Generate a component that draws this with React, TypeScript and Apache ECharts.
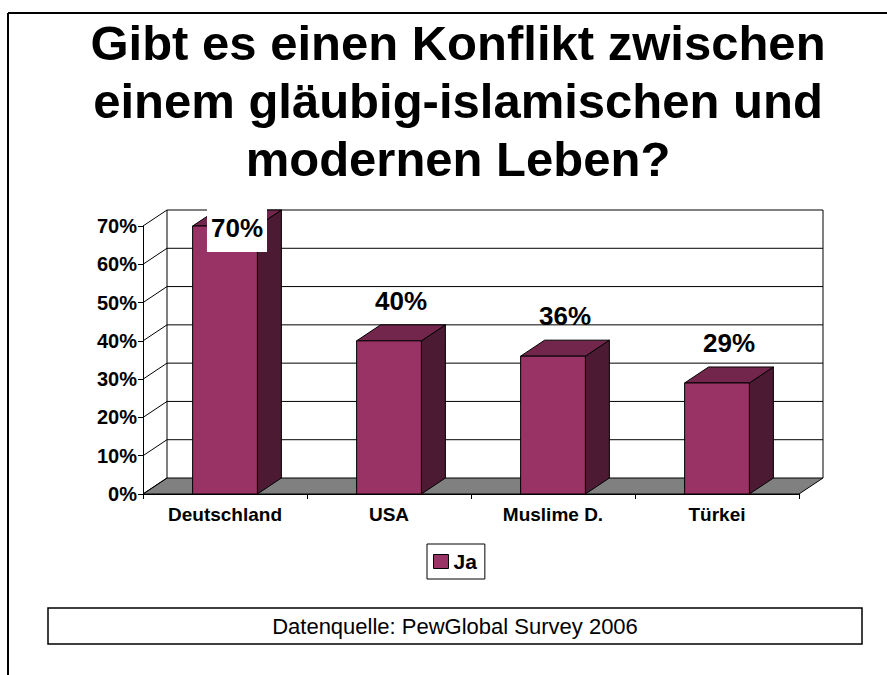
import React, { useEffect, useRef } from "react";
import * as echarts from "echarts";

const titleLines = [
  "Gibt es einen Konflikt zwischen",
  "einem gläubig-islamischen und",
  "modernen Leben?",
];
const categories = ["Deutschland", "USA", "Muslime D.", "Türkei"];
const values = [70, 40, 36, 29];
const yTicks = [0, 10, 20, 30, 40, 50, 60, 70];
const seriesName = "Ja";
const sourceText = "Datenquelle: PewGlobal Survey 2006";

const FONT = "'Liberation Sans', Arial, Helvetica, sans-serif";
const DX = 24;
const DY = -16;
const FRONT = "#993366";
const TOP = "#73264c";
const SIDE = "#4d1a33";
const FLOOR = "#808080";

export default function App() {
  const ref = useRef<HTMLDivElement>(null);
  useEffect(() => {
    if (!ref.current) return;
    const chart = echarts.init(ref.current, null, { renderer: "svg" });

    const wallsRender = (params: any, api: any) => {
      const cs = params.coordSys;
      const x0 = cs.x;
      const x1 = cs.x + cs.width;
      const yBase = api.coord([0, 0])[1];
      const yTopVal = api.coord([0, yTicks[yTicks.length - 1]])[1];
      const children: any[] = [];
      children.push({
        type: "polygon",
        shape: {
          points: [
            [x0, yBase],
            [x1, yBase],
            [x1 + DX, yBase + DY],
            [x0 + DX, yBase + DY],
          ],
        },
        style: { fill: FLOOR, stroke: "#000", lineWidth: 1 },
      });
      yTicks.forEach((t) => {
        const y = api.coord([0, t])[1];
        if (t !== 0) {
          children.push({
            type: "line",
            shape: { x1: x0 + DX, y1: y + DY, x2: x1 + DX, y2: y + DY },
            style: { stroke: "#000", lineWidth: 1 },
          });
        }
        children.push({
          type: "line",
          shape: { x1: x0, y1: y, x2: x0 + DX, y2: y + DY },
          style: { stroke: "#000", lineWidth: 1 },
        });
      });
      [x0 + DX, x1 + DX].forEach((x) => {
        children.push({
          type: "line",
          shape: { x1: x, y1: yTopVal + DY, x2: x, y2: yBase + DY },
          style: { stroke: "#000", lineWidth: 1 },
        });
      });
      return { type: "group", children };
    };

    const barsRender = (params: any, api: any) => {
      const cs = params.coordSys;
      const idx = api.value(0);
      const val = api.value(1);
      const top = api.coord([idx, val]);
      const base = api.coord([idx, 0]);
      const bw = api.size([1, 0])[0] * 0.395;
      const xl = top[0] - bw / 2;
      const xr = top[0] + bw / 2;
      const yT = top[1];
      const yB = base[1];
      let cy = yT + DY - 24;
      const minY = cs.y + 2;
      const clamped = cy < minY;
      if (clamped) cy = minY;
      return {
        type: "group",
        children: [
          {
            type: "polygon",
            shape: { points: [[xr, yT], [xr + DX, yT + DY], [xr + DX, yB + DY], [xr, yB]] },
            style: { fill: SIDE, stroke: "#000", lineWidth: 1 },
          },
          {
            type: "polygon",
            shape: { points: [[xl, yT], [xr, yT], [xr + DX, yT + DY], [xl + DX, yT + DY]] },
            style: { fill: TOP, stroke: "#000", lineWidth: 1 },
          },
          {
            type: "rect",
            shape: { x: xl, y: yT, width: bw, height: yB - yT },
            style: { fill: FRONT, stroke: "#000", lineWidth: 1 },
          },
          {
            type: "text",
            x: top[0] + DX / 2,
            y: cy,
            z2: 10,
            style: {
              text: val + "%",
              fontFamily: FONT,
              fontSize: 26,
              fontWeight: "bold",
              fill: "#000",
              align: "center",
              verticalAlign: "middle",
              backgroundColor: clamped ? "#fff" : "transparent",
              padding: clamped ? [11, 4, 11, 4] : 0,
            },
          },
        ],
      };
    };

    chart.setOption({
      animation: false,
      backgroundColor: "#fff",
      textStyle: { fontFamily: FONT },
      title: {
        text: titleLines.join("\n"),
        left: 453,
        top: 9,
        textAlign: "center",
        textStyle: {
          fontFamily: FONT,
          fontSize: 49,
          fontWeight: "bold",
          lineHeight: 58,
          color: "#000",
        },
      },
      legend: {
        data: [{ name: seriesName, icon: "rect" }],
        left: 427,
        top: 544,
        itemWidth: 15,
        itemHeight: 14,
        padding: [7, 8, 7, 6],
        borderColor: "#000",
        borderWidth: 1,
        itemStyle: { borderColor: "#000", borderWidth: 1 },
        textStyle: { fontFamily: FONT, fontSize: 21, fontWeight: "bold", color: "#000" },
      },
      grid: { left: 143, right: 88, top: 226, bottom: 181, containLabel: false },
      xAxis: {
        type: "category",
        data: categories,
        boundaryGap: true,
        axisLine: { show: true, lineStyle: { color: "#000", width: 1 } },
        axisTick: { show: true, length: 5, lineStyle: { color: "#000" } },
        axisLabel: {
          interval: 0,
          margin: 11,
          fontFamily: FONT,
          fontSize: 19,
          fontWeight: "bold",
          color: "#000",
        },
        splitLine: { show: false },
      },
      yAxis: {
        type: "value",
        min: 0,
        max: 70,
        interval: 10,
        axisLine: { show: true, lineStyle: { color: "#000", width: 1 } },
        axisTick: { show: true, length: 5, lineStyle: { color: "#000" } },
        axisLabel: {
          margin: 6,
          formatter: "{value}%",
          fontFamily: FONT,
          fontSize: 20,
          fontWeight: "bold",
          color: "#000",
        },
        splitLine: { show: false },
      },
      series: [
        {
          type: "custom",
          name: "walls",
          renderItem: wallsRender,
          data: [[0, 0]],
          z: 1,
          silent: true,
        },
        {
          type: "custom",
          name: seriesName,
          renderItem: barsRender,
          itemStyle: { color: FRONT },
          data: values.map((v, i) => [i, v]),
          z: 3,
        },
      ],
      graphic: [
        {
          type: "line",
          shape: { x1: 8, y1: 13, x2: 887, y2: 13 },
          style: { stroke: "#000", lineWidth: 2 },
        },
        {
          type: "line",
          shape: { x1: 8, y1: 13, x2: 8, y2: 675 },
          style: { stroke: "#000", lineWidth: 2 },
        },
        {
          type: "rect",
          shape: { x: 48, y: 608, width: 814, height: 36 },
          style: { fill: "#fff", stroke: "#000", lineWidth: 1.5 },
        },
        {
          type: "text",
          x: 455,
          y: 626,
          style: {
            text: sourceText,
            fontFamily: FONT,
            fontSize: 22,
            fill: "#000",
            align: "center",
            verticalAlign: "middle",
          },
        },
      ],
    });
    return () => chart.dispose();
  }, []);
  return (
    <div
      ref={ref}
      style={{ position: "absolute", left: 0, top: 0, width: 887, height: 675 }}
    />
  );
}
